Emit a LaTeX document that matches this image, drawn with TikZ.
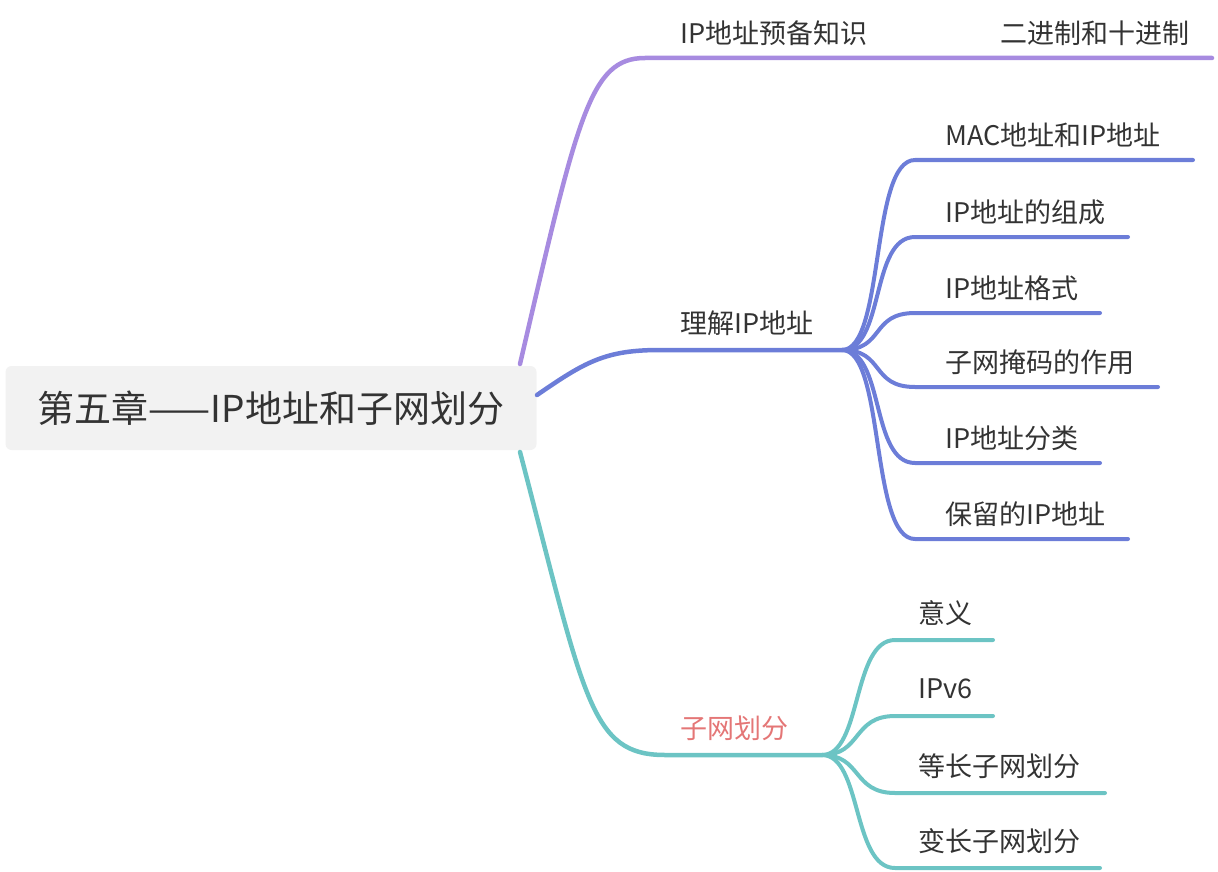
\documentclass[tikz,border=0pt]{standalone}
\usepackage{fontspec}
\setmainfont{Noto Sans CJK SC}
\begin{document}
\begin{tikzpicture}[x=1pt,y=-1pt,
  txt/.style={anchor=west,inner sep=0pt,text=black!80,font=\fontsize{27}{32}\selectfont},
  main/.style={line width=4.5pt,line cap=round},
  sub/.style={line width=4pt,line cap=round}]
\useasboundingbox (0,0) rectangle (1218,872);
\definecolor{cpur}{RGB}{167,139,224}
\definecolor{cblu}{RGB}{108,125,216}
\definecolor{ctea}{RGB}{108,196,196}
\definecolor{cred}{RGB}{228,118,118}
% root
\node[fill=black!5,rounded corners=6pt,minimum width=531pt,minimum height=84pt,inner sep=0pt,
  font=\fontsize{37}{44}\selectfont,text=black!80] (root) at (271,408) {第五章——IP地址和子网划分};
\coordinate (rp) at (520,364);
\coordinate (rb) at (537,395);
\coordinate (rt) at (520,452);
% purple branch
\coordinate (p1) at (645,58);
\coordinate (p2) at (888,58);
\coordinate (p3) at (1212,58);
\draw[main,cpur] (rp) .. controls (578,115) and (590,58) .. (p1) -- (p2) -- (p3);
\node[txt] (pa) at (680,33) {IP地址预备知识};
\node[txt] (pb) at (1000,33) {二进制和十进制};
% blue branch
\coordinate (b1) at (660,350);
\coordinate (bj) at (842,350);
\draw[main,cblu] (rb) .. controls (585,362) and (605,350) .. (b1) -- (bj);
\node[txt] (ba) at (680,323) {理解IP地址};
\foreach \y/\e/\t/\n in {160/1193/MAC地址和IP地址/b1c,237/1128/IP地址的组成/b2c,313/1100/IP地址格式/b3c,387/1158/子网掩码的作用/b4c,463/1100/IP地址分类/b5c,539/1128/保留的IP地址/b6c}{
  \coordinate (\n s) at (915,\y);
  \coordinate (\n e) at (\e,\y);
  \draw[sub,cblu] (bj) .. controls (885,350) and (870,\y) .. (\n s) -- (\n e);
  \node[txt] (\n) at (945,\y-25) {\t};
}
% teal branch
\coordinate (t1) at (665,755);
\coordinate (tj) at (822,755);
\draw[main,ctea] (rt) .. controls (585,700) and (590,755) .. (t1) -- (tj);
\node[txt,text=cred] (ta) at (680,728) {子网划分};
\foreach \y/\e/\t/\n in {640/993/意义/t1c,716/993/IPv6/t2c,793/1105/等长子网划分/t3c,868/1100/变长子网划分/t4c}{
  \coordinate (\n s) at (895,\y);
  \coordinate (\n e) at (\e,\y);
  \draw[sub,ctea] (tj) .. controls (862,755) and (852,\y) .. (\n s) -- (\n e);
  \node[txt] (\n) at (918,\y-27) {\t};
}
\end{tikzpicture}
\end{document}
